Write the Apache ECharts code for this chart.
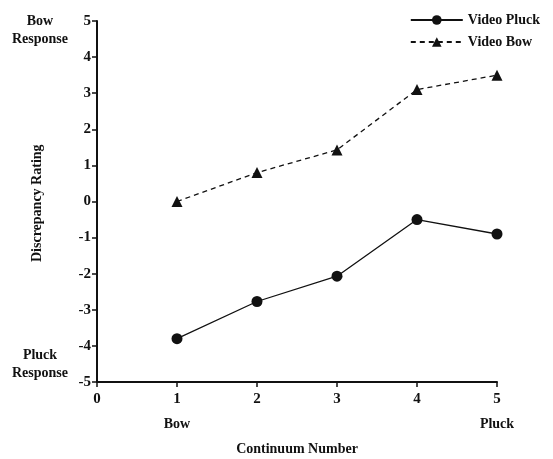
<!DOCTYPE html>
<html>
<head>
<meta charset="utf-8">
<script src="https://cdn.jsdelivr.net/npm/echarts@6/dist/echarts.min.js"></script>
<style>
  html, body { margin: 0; padding: 0; background: #fff; }
  #chart { width: 553px; height: 459px; }
</style>
</head>
<body>
<div id="chart"></div>
<script>
// Data
const continuum = [1, 2, 3, 4, 5];
const videoPluck = [-3.8, -2.77, -2.07, -0.5, -0.9];
const videoBow = [0.0, 0.8, 1.43, 3.1, 3.5];

const font = '"Liberation Serif", "DejaVu Serif", serif';
const ink = '#111';

const chart = echarts.init(document.getElementById('chart'));

chart.setOption({
    animation: false,
    backgroundColor: '#fff',
    textStyle: { fontFamily: font, color: ink },
    grid: { left: 97, right: 56, top: 21, bottom: 77 },
    legend: {
        right: 8,
        top: 8,
        orient: 'vertical',
        itemWidth: 52,
        itemHeight: 12,
        itemGap: 8,
        textStyle: { fontFamily: font, fontWeight: 'bold', fontSize: 14, color: ink },
        data: ['Video Pluck', 'Video Bow']
    },
    xAxis: {
        type: 'value',
        min: 0,
        max: 5,
        interval: 1,
        axisLine: { onZero: false, lineStyle: { color: ink, width: 2 } },
        axisTick: { show: true, length: 5, lineStyle: { color: ink, width: 1.5 } },
        axisLabel: { fontFamily: font, fontWeight: 'bold', fontSize: 15, color: ink, margin: 10 },
        splitLine: { show: false }
    },
    yAxis: {
        type: 'value',
        min: -5,
        max: 5,
        interval: 1,
        axisLine: { show: true, onZero: false, lineStyle: { color: ink, width: 2 } },
        axisTick: { show: true, length: 5, lineStyle: { color: ink, width: 1.5 } },
        axisLabel: { fontFamily: font, fontWeight: 'bold', fontSize: 15, color: ink, margin: 6 },
        splitLine: { show: false }
    },
    graphic: [
        { type: 'text', x: 40, y: 12, style: { text: 'Bow\nResponse', fontFamily: font, fontWeight: 'bold', fontSize: 14, fill: ink, align: 'center', lineHeight: 18 } },
        { type: 'text', x: 40, y: 346, style: { text: 'Pluck\nResponse', fontFamily: font, fontWeight: 'bold', fontSize: 14, fill: ink, align: 'center', lineHeight: 18 } },
        { type: 'text', x: 177, y: 417, style: { text: 'Bow', fontFamily: font, fontWeight: 'bold', fontSize: 14, fill: ink, align: 'center' } },
        { type: 'text', x: 497, y: 417, style: { text: 'Pluck', fontFamily: font, fontWeight: 'bold', fontSize: 14, fill: ink, align: 'center' } },
        { type: 'text', x: 297, y: 442, style: { text: 'Continuum Number', fontFamily: font, fontWeight: 'bold', fontSize: 14, fill: ink, align: 'center' } },
        { type: 'text', x: 30, y: 262, rotation: Math.PI / 2, style: { text: 'Discrepancy Rating', fontFamily: font, fontWeight: 'bold', fontSize: 14, fill: ink } }
    ],
    series: [
        {
            name: 'Video Pluck',
            type: 'line',
            data: continuum.map((x, i) => [x, videoPluck[i]]),
            symbol: 'circle',
            symbolSize: 11,
            lineStyle: { color: ink, width: 1.3, type: 'solid' },
            itemStyle: { color: ink }
        },
        {
            name: 'Video Bow',
            type: 'line',
            data: continuum.map((x, i) => [x, videoBow[i]]),
            symbol: 'triangle',
            symbolSize: 11,
            lineStyle: { color: ink, width: 1.3, type: [5, 4] },
            itemStyle: { color: ink }
        }
    ]
});
</script>
</body>
</html>
